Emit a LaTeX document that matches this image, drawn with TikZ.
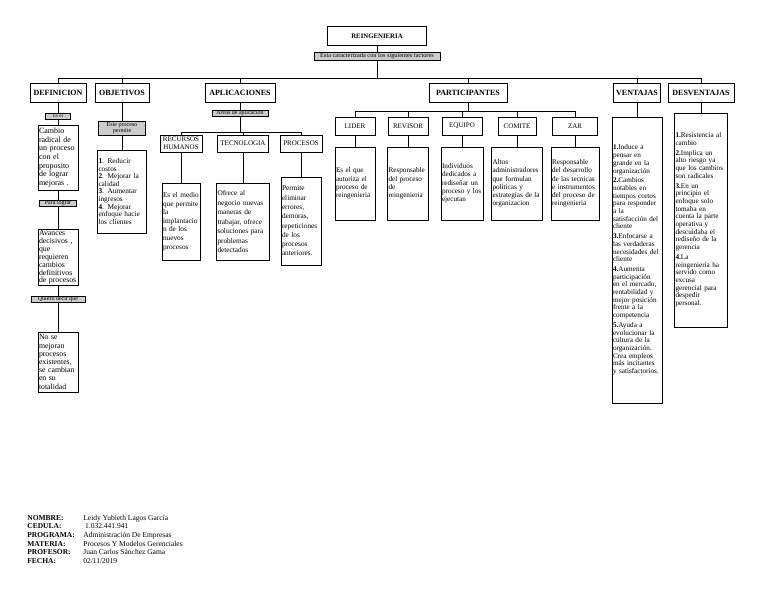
\documentclass[tikz,border=0pt]{standalone}
\usepackage{fontspec}
\setmainfont{Liberation Serif}

\begin{document}
\begin{tikzpicture}[x=1pt, y=-1pt, line width=0.7pt,
  caja/.style={draw, line width=0.9pt, inner sep=0pt},
  titulo/.style={caja, minimum height=19pt, font=\fontsize{8}{9}\selectfont\bfseries},
  rama/.style={caja, minimum height=17pt, align=center, font=\fontsize{7}{7.6}\selectfont},
  gris/.style={caja, fill=gray!40, align=center, font=\fontsize{6}{6.5}\selectfont},
  texto/.style={caja, inner sep=1pt, align=left, font=\fontsize{7.2}{8.3}\selectfont},
  lista/.style={texto, font=\fontsize{7.2}{7.7}\selectfont}]
  \useasboundingbox (0,0) rectangle (768,594);

  % raiz
  \node[titulo, minimum width=99pt, font=\fontsize{6.8}{7}\selectfont\bfseries] (reing) at (377,36) {REINGENIERIA};
  \node[gris, minimum width=126pt, minimum height=8pt, font=\fontsize{6.3}{7}\selectfont] (car) at (377,56) {Esta caracterizada con los siguientes factores};
  \coordinate (hub) at (377,78);

  \node[titulo, minimum width=56pt] (def) at (58,92.5) {DEFINICION};
  \node[titulo, minimum width=54pt] (obj) at (122,92.5) {OBJETIVOS};
  \node[titulo, minimum width=70pt] (apl) at (240,92.5) {APLICACIONES};
  \node[titulo, minimum width=78pt] (par) at (468,92.5) {PARTICIPANTES};
  \node[titulo, minimum width=47pt] (ven) at (637,92.5) {VENTAJAS};
  \node[titulo, minimum width=66pt] (des) at (701,92.5) {DESVENTAJAS};

  \draw (reing) -- (car);
  \draw (car) -- (hub);
  \foreach \n in {def,obj,apl,par,ven,des} \draw (hub) -| (\n);

  % definicion
  \node[gris, minimum width=25pt, minimum height=6pt, font=\fontsize{5}{5.5}\selectfont] (esel) at (58,116) {Es el};
  \node[texto, text width=38pt, minimum height=65pt, font=\fontsize{8}{8.6}\selectfont] (cambio) at (58,157.5)
    {Cambio\\radical de\\un proceso\\con el\\proposito\\de lograr\\mejoras .};
  \node[gris, minimum width=37pt, minimum height=6pt] (lograr) at (58,203.5) {Para lograr};
  \node[texto, text width=38pt, minimum height=55pt, font=\fontsize{7.8}{7.9}\selectfont] (avances) at (58,257.5)
    {Avances\\decisivos ,\\que\\requieren\\cambios\\definitivos\\de procesos};
  \node[gris, minimum width=54pt, minimum height=6pt] (quiero) at (58,299) {Quiero decir que};
  \node[texto, text width=38pt, minimum height=60pt, font=\fontsize{7.8}{8.2}\selectfont] (nose) at (58,362)
    {No se\\mejoran\\procesos\\existentes,\\se cambian\\en su\\totalidad};
  \foreach \a/\b in {def/esel, esel/cambio, cambio/lograr, lograr/avances, avances/quiero, quiero/nose}
    \draw (\a) -- (\b);

  % objetivos
  \node[gris, minimum width=47pt, minimum height=14pt] (permite) at (122,128) {Este proceso\\permite};
  \node[texto, text width=47pt, minimum height=83pt, font=\fontsize{7.3}{7.6}\selectfont] (objtxt) at (122,191.5)
    {\textbf{1}. Reducir\\costos\\\textbf{2}. Mejorar la\\calidad\\\textbf{3}. Aumentar\\ingresos\\\textbf{4}. Mejorar\\enfoque hacie\\los clientes};
  \draw (obj) -- (permite);
  \draw (permite) -- (objtxt);

  % aplicaciones
  \node[gris, minimum width=56pt, minimum height=6pt] (areas) at (240,113.5) {Areas de aplicacion};
  \coordinate (ahub) at (240,132);
  \node[rama, minimum width=42pt] (rh) at (181,143.5) {RECURSOS\\HUMANOS};
  \node[rama, minimum width=51pt] (tec) at (243,143.5) {TECNOLOGIA};
  \node[rama, minimum width=42pt] (proc) at (301,143.5) {PROCESOS};
  \node[texto, text width=36pt, minimum height=77pt, font=\fontsize{7.3}{8.6}\selectfont] (rhtxt) at (181,221.5)
    {Es el medio\\que permite\\la\\implantacio\\n de los\\nuevos\\procesos};
  \node[texto, text width=51pt, minimum height=77pt, font=\fontsize{7.3}{9.5}\selectfont] (tectxt) at (243,221.5)
    {Ofrece al\\negocio nuevas\\maneras de\\trabajar, ofrece\\soluciones para\\problemas\\detectados};
  \node[texto, text width=38pt, minimum height=88pt, font=\fontsize{7.3}{9.3}\selectfont] (proctxt) at (301,221)
    {Permite\\eliminar\\errores,\\demoras,\\repeticiones\\de los\\procesos\\anteriores.};
  \draw (apl) -- (areas);
  \draw (areas) -- (ahub);
  \foreach \n in {rh,tec,proc} \draw (ahub) -| (\n);
  \foreach \n in {rh,tec,proc} \draw (\n) -- (\n txt);

  % participantes
  \coordinate (phub) at (468,111);
  \node[rama, minimum width=40pt, minimum height=18pt] (lider) at (355,126) {LIDER};
  \node[rama, minimum width=40pt, minimum height=18pt] (revisor) at (408,126) {REVISOR};
  \node[rama, minimum width=40pt, minimum height=18pt] (equipo) at (462,126) {EQUIPO};
  \node[rama, minimum width=38pt, minimum height=18pt] (comite) at (517,126) {COMITE};
  \node[rama, minimum width=45pt, minimum height=18pt] (zar) at (575,126) {ZAR};
  \node[texto, text width=38pt, minimum height=73pt] (lidertxt) at (355,183.5)
    {Es el que\\autoriza el\\proceso de\\reingenieria};
  \node[texto, text width=39pt, minimum height=73pt] (revisortxt) at (408,183.5)
    {Responsable\\del proceso\\de\\reingenieria};
  \node[texto, text width=40pt, minimum height=73pt] (equipotxt) at (462,183.5)
    {Individuos\\dedicados a\\rediseñar un\\proceso y los\\ejecutan};
  \node[texto, text width=49pt, minimum height=73pt] (comitetxt) at (517,183.5)
    {Altos\\administradores\\que formulan\\politicas y\\estrategias de la\\organizacion};
  \node[texto, text width=46pt, minimum height=73pt] (zartxt) at (575,183.5)
    {Responsable\\del desarrollo\\de las tecnicas\\e instrumentos\\del proceso de\\reingenieria};
  \draw (par) -- (phub);
  \foreach \n in {lider,revisor,equipo,comite,zar} \draw (phub) -| (\n);
  \foreach \n in {lider,revisor,equipo,comite,zar} \draw (\n) -- (\n txt);

  % ventajas y desventajas
  \node[lista, text width=48pt, minimum height=286pt] (ventxt) at (637,260)
    {\textbf{1.}Induce a\\pensar en\\grande en la\\organización\\[2pt]
     \textbf{2.}Cambios\\notables en\\tiempos cortos\\para responder\\a la\\satisfacción del\\cliente\\[2pt]
     \textbf{3.}Enfocarse a\\las verdaderas\\necesidades del\\cliente\\[2pt]
     \textbf{4.}Aumenta\\participación\\en el mercado,\\rentabilidad y\\mejor posición\\frente a la\\competencia\\[2pt]
     \textbf{5.}Ayuda a\\evolucionar la\\cultura de la\\organización.\\Crea empleos\\más incitantes\\y satisfactorios.};
  \node[lista, text width=51pt, minimum height=214pt] (destxt) at (701,220)
    {\textbf{1.}Resistencia al\\cambio\\[2pt]
     \textbf{2.}Implica un\\alto riesgo ya\\que los cambios\\son radicales\\[2pt]
     \textbf{3.}En un\\principio el\\enfoque solo\\tomaba en\\cuenta la parte\\operativa y\\descuidaba el\\rediseño de la\\gerencia\\[2pt]
     \textbf{4.}La\\reingeniería ha\\servido como\\excusa\\gerencial para\\despedir\\personal.};
  \draw (ven) -- (ventxt);
  \draw (des) -- (destxt);

  % datos del autor
  \node[anchor=north west, inner sep=0pt, font=\fontsize{7.5}{8.6}\selectfont] (datos) at (27,514) {%
    \begin{tabular}{@{}p{56pt}@{}l@{}}
      \textbf{NOMBRE:}   & Leidy Yubieth Lagos García\\
      \textbf{CEDULA:}   & \ 1.032.441.941\\
      \textbf{PROGRAMA:} & Administración De Empresas\\
      \textbf{MATERIA:}  & Procesos Y Modelos Gerenciales\\
      \textbf{PROFESOR:} & Juan Carlos Sánchez Gama\\
      \textbf{FECHA:}    & 02/11/2019
    \end{tabular}};
\end{tikzpicture}
\end{document}
